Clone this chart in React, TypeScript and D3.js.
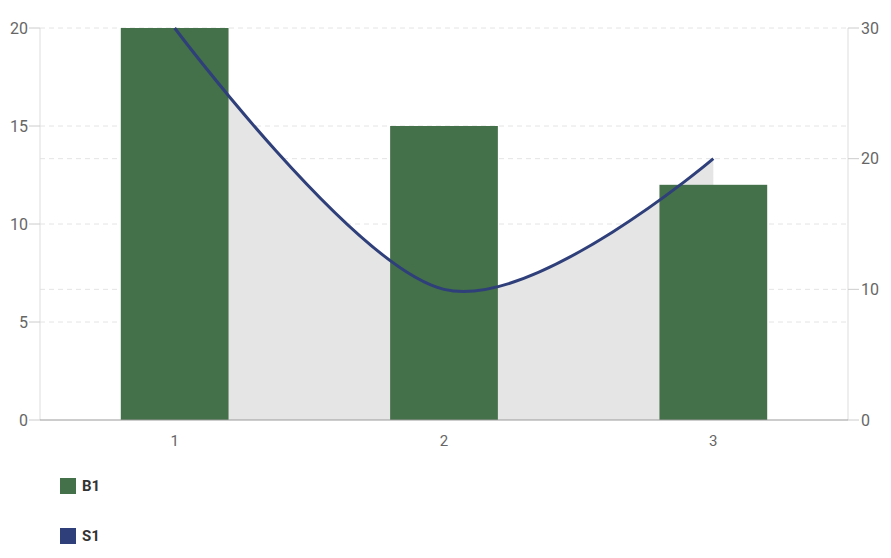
import React from "react";
import * as d3 from "d3";

const categories = ["1", "2", "3"];
const barValues = [20, 15, 12];
const lineValues = [30, 10, 20];
const leftTicks = [0, 5, 10, 15, 20];
const rightTicks = [0, 10, 20, 30];
const legendItems = [
  { name: "B1", color: "#44704a" },
  { name: "S1", color: "#2f3f7a" },
];

const W = 891;
const H = 558;
const M = { left: 40, right: 848, top: 28, bottom: 420 };
const FONT = "Roboto, 'Noto Sans', sans-serif";

export default function App() {
  const x = d3.scaleBand<string>().domain(categories).range([M.left, M.right]).paddingInner(0).paddingOuter(0);
  const yL = d3.scaleLinear().domain([0, 20]).range([M.bottom, M.top]);
  const yR = d3.scaleLinear().domain([0, 30]).range([M.bottom, M.top]);
  const cx = (c: string) => (x(c) as number) + x.bandwidth() / 2;
  const barW = x.bandwidth() * 0.4;

  const pts: [number, number][] = categories.map((c, i) => [cx(c), yR(lineValues[i])]);
  const line = d3.line().curve(d3.curveCardinal.tension(0))(pts) as string;
  const area = d3
    .area<[number, number]>()
    .x((d) => d[0])
    .y0(yR(0))
    .y1((d) => d[1])
    .curve(d3.curveCardinal.tension(0))(pts) as string;

  return (
    <svg width={W} height={H} style={{ position: "absolute", left: 0, top: 0, display: "block" }} fontFamily={FONT}>
      <rect width={W} height={H} fill="#fff" />
      {leftTicks.filter((t) => t > 0).map((t) => (
        <line key={"gl" + t} x1={M.left} x2={M.right} y1={yL(t)} y2={yL(t)} stroke="#e4e4e4" strokeDasharray="5,4" />
      ))}
      {rightTicks.filter((t) => t > 0 && t < 30).map((t) => (
        <line key={"gr" + t} x1={M.left} x2={M.right} y1={yR(t)} y2={yR(t)} stroke="#e4e4e4" strokeDasharray="5,4" />
      ))}
      <line x1={M.left} x2={M.left} y1={M.top} y2={M.bottom} stroke="#dddddd" />
      <line x1={M.right} x2={M.right} y1={M.top} y2={M.bottom} stroke="#dddddd" />
      <path d={area} fill="#e5e5e5" />
      {categories.map((c, i) => (
        <rect key={c} x={cx(c) - barW / 2} y={yL(barValues[i])} width={barW} height={yL(0) - yL(barValues[i])} fill="#44704a" />
      ))}
      <path d={line} fill="none" stroke="#2f3f7a" strokeWidth={3} />
      <line x1={M.left} x2={M.right} y1={M.bottom} y2={M.bottom} stroke="#9a9a9a" />
      {leftTicks.map((t) => (
        <g key={"lt" + t}>
          <line x1={M.left - 11} x2={M.left} y1={yL(t)} y2={yL(t)} stroke="#cccccc" />
          <text x={M.left - 12} y={yL(t)} dy="0.35em" textAnchor="end" fontSize={16} fill="#666">{t}</text>
        </g>
      ))}
      {rightTicks.map((t) => (
        <g key={"rt" + t}>
          <line x1={M.right} x2={M.right + 11} y1={yR(t)} y2={yR(t)} stroke="#cccccc" />
          <text x={M.right + 13} y={yR(t)} dy="0.35em" textAnchor="start" fontSize={16} fill="#666">{t}</text>
        </g>
      ))}
      {categories.map((c) => (
        <text key={"xt" + c} x={cx(c)} y={441} dy="0.35em" textAnchor="middle" fontSize={15} fill="#666">{c}</text>
      ))}
      {legendItems.map((it, i) => (
        <g key={it.name} transform={`translate(60, ${478 + i * 50})`}>
          <rect width={16} height={16} fill={it.color} />
          <text x={22} y={8} dy="0.36em" fontSize={15} fontWeight="bold" fill="#333">{it.name}</text>
        </g>
      ))}
    </svg>
  );
}
